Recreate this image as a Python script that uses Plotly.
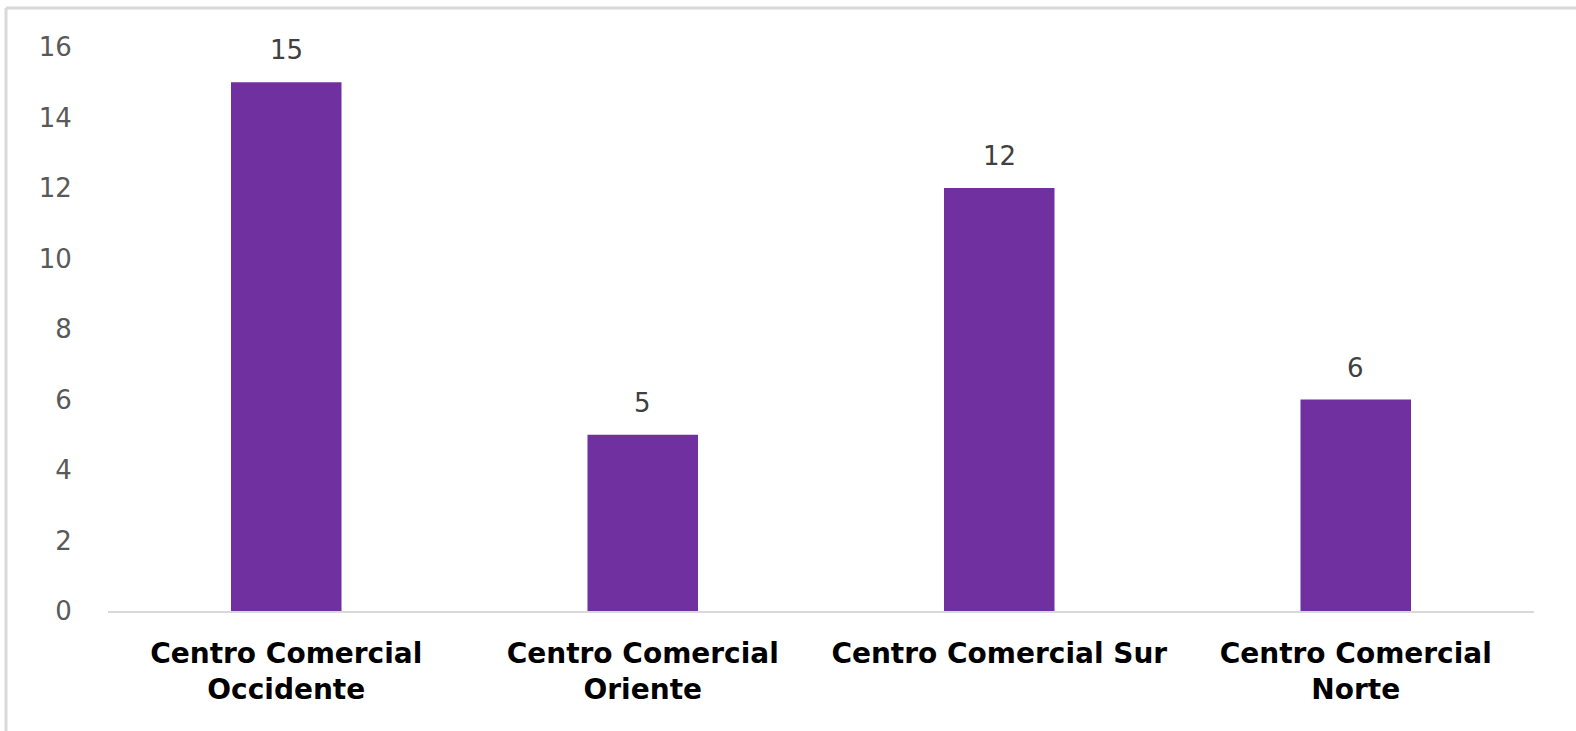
import plotly.graph_objects as go

categories = ["Centro Comercial<br>Occidente", "Centro Comercial<br>Oriente",
              "Centro Comercial Sur", "Centro Comercial<br>Norte"]
values = [15, 5, 12, 6]
y_ticks = [0, 2, 4, 6, 8, 10, 12, 14, 16]

fig = go.Figure()
fig.add_trace(go.Bar(x=categories, y=values, marker_color="#7030A0",
                     marker_line_width=0, width=0.31,
                     text=[str(v) for v in values], textposition="none",
                     hoverinfo="x+y"))

for c, v in zip(categories, values):
    fig.add_annotation(x=c, y=v, text=str(v), showarrow=False, yanchor="bottom",
                       yshift=15, font=dict(family="DejaVu Sans", size=26, color="#404040"))

fig.update_layout(
    width=1576, height=731,
    margin=dict(l=108, r=42, t=47, b=120),
    plot_bgcolor="white", paper_bgcolor="white",
    showlegend=False,
    xaxis=dict(showline=True, linecolor="#d9d9d9", linewidth=2, showgrid=False,
               ticks="outside", ticklen=16, tickcolor="rgba(0,0,0,0)",
               tickfont=dict(family="DejaVu Sans", size=28, color="#000000", weight="bold")),
    yaxis=dict(range=[0, 16], tickvals=y_ticks, showgrid=False, zeroline=False,
               showline=False, ticks="outside", ticklen=30, tickcolor="rgba(0,0,0,0)",
               tickfont=dict(family="DejaVu Sans", size=26, color="#595959")),
    shapes=[
        dict(type="line", xref="paper", yref="paper", x0=(6 - 108) / 1426, x1=1.05,
             y0=(611 - 8) / 564, y1=(611 - 8) / 564, line=dict(color="#d9d9d9", width=3)),
        dict(type="line", xref="paper", yref="paper", x0=(6 - 108) / 1426, x1=(6 - 108) / 1426,
             y0=(611 - 8) / 564, y1=-0.3, line=dict(color="#d9d9d9", width=3)),
    ],
)

fig.write_html("out.html", config={"displayModeBar": False},
               post_script="document.body.style.margin='0';document.body.style.overflow='hidden';")
